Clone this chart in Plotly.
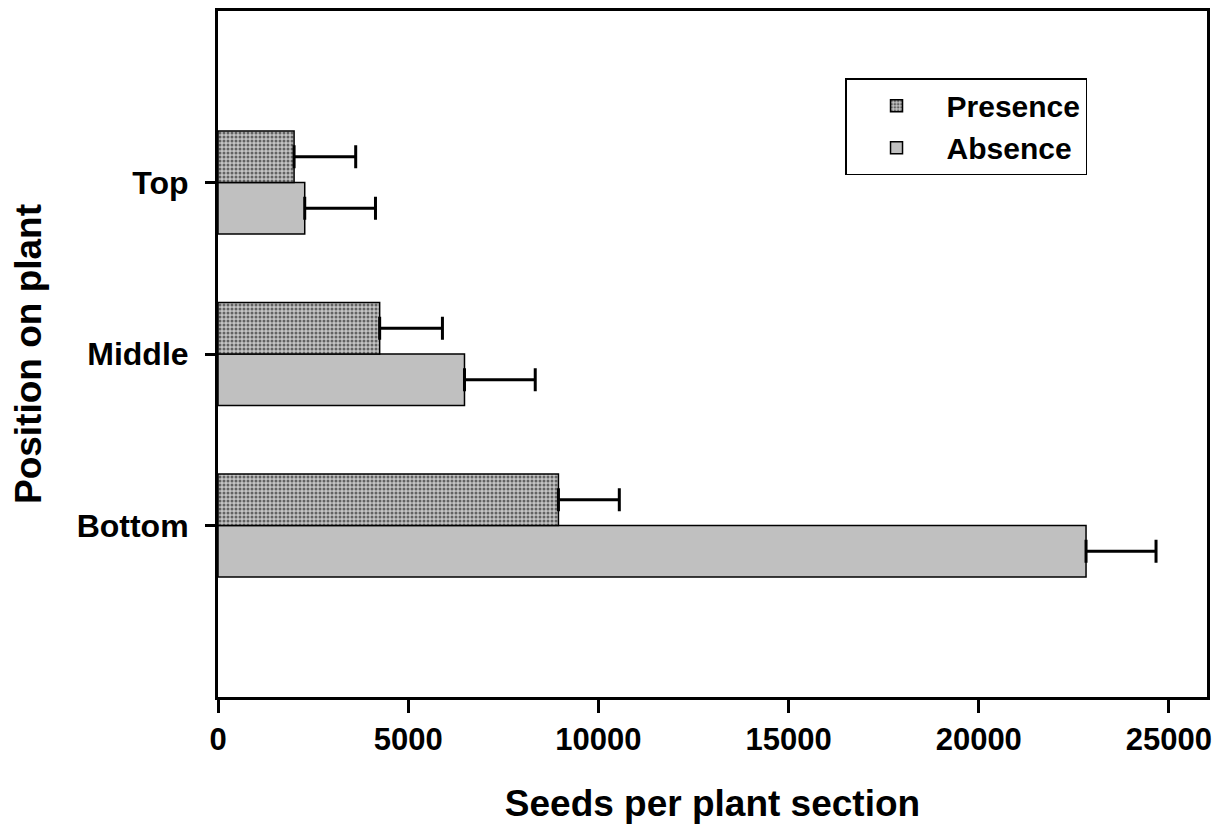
import plotly.graph_objects as go

positions = ["Bottom", "Middle", "Top"]
presence = [8950, 4250, 2000]
presence_err = [1600, 1650, 1620]
absence = [22820, 6480, 2280]
absence_err = [1840, 1860, 1860]
x_ticks = [0, 5000, 10000, 15000, 20000, 25000]

FONT = "Liberation Sans"

fig = go.Figure()
fig.add_trace(go.Bar(
    y=positions, x=absence, orientation="h", name="Absence",
    marker=dict(color="#c0c0c0", line=dict(color="black", width=1.5)),
    error_x=dict(type="data", symmetric=False, array=absence_err,
                 arrayminus=[0] * len(absence_err),
                 color="black", thickness=3, width=11.5),
))
fig.add_trace(go.Bar(
    y=positions, x=presence, orientation="h", name="Presence",
    marker=dict(color="#c4c4c4", line=dict(color="black", width=1.5),
                pattern=dict(shape=".", fgcolor="#000000", bgcolor="#c4c4c4",
                             size=4, solidity=0.45)),
    error_x=dict(type="data", symmetric=False, array=presence_err,
                 arrayminus=[0] * len(presence_err),
                 color="black", thickness=3, width=11.5),
))

fig.update_layout(
    width=1225, height=831,
    margin=dict(l=210, r=26, t=3, b=142, autoexpand=False),
    paper_bgcolor="white", plot_bgcolor="white",
    barmode="group", bargap=0.4, bargroupgap=0,
    font=dict(family=FONT, color="black"),
    showlegend=True,
    legend=dict(
        x=0.634, y=0.902, xanchor="left", yanchor="top",
        traceorder="reversed", bgcolor="white",
        bordercolor="black", borderwidth=1.5,
        font=dict(family=FONT, size=30, color="black", weight="bold"),
        itemwidth=90,
    ),
    xaxis=dict(
        range=[0, 26000], tickvals=x_ticks, ticktext=[str(v) for v in x_ticks],
        showgrid=False, zeroline=False,
        showline=True, linecolor="black", linewidth=3, mirror=True,
        ticks="outside", ticklen=13, tickwidth=2.5, tickcolor="black",
        tickfont=dict(family=FONT, size=31, color="black", weight="bold"),
        title=dict(text="Seeds per plant section", standoff=34,
                   font=dict(family=FONT, size=37, color="black", weight="bold")),
    ),
    yaxis=dict(
        type="category", categoryorder="array", categoryarray=positions,
        range=[-1, 3],
        showgrid=False, zeroline=False,
        showline=True, linecolor="black", linewidth=3, mirror=True,
        ticks="outside", ticklen=10, tickwidth=2.5, tickcolor="black",
        ticklabelstandoff=10,
        tickfont=dict(family=FONT, size=32, color="black", weight="bold"),
        title=dict(text="Position on plant", standoff=30,
                   font=dict(family=FONT, size=37, color="black", weight="bold")),
    ),
)

fig.write_html("out.html")
